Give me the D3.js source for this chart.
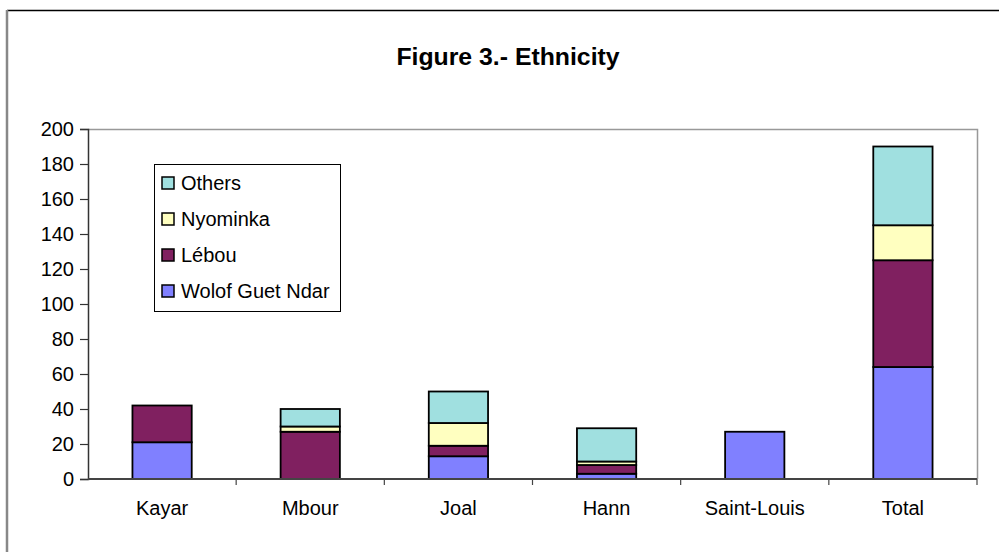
<!DOCTYPE html>
<html>
<head>
<meta charset="utf-8">
<script src="https://cdn.jsdelivr.net/npm/d3@7"></script>
<style>
  html, body { margin: 0; padding: 0; background: #fff; }
  svg { display: block; font-family: "Liberation Sans", Arial, sans-serif; }
</style>
</head>
<body>
<svg id="chart" width="999" height="552"></svg>
<script>
// Sites surveyed and the headcount of each ethnic group per site
const categories = ["Kayar", "Mbour", "Joal", "Hann", "Saint-Louis", "Total"];
const wolofGuetNdar = [21, 0, 13, 3, 27, 64];
const lebou        = [21, 27, 6, 5, 0, 61];
const nyominka     = [0, 3, 13, 2, 0, 20];
const others       = [0, 10, 18, 19, 0, 45];
const seriesNames  = ["Wolof Guet Ndar", "Lébou", "Nyominka", "Others"];
const yTicks       = [0, 20, 40, 60, 80, 100, 120, 140, 160, 180, 200];

const seriesValues = [wolofGuetNdar, lebou, nyominka, others];
const colors = ["#8080FF", "#802060", "#FFFFC0", "#A0E0E0"];
const fontSize = 20;

const svg = d3.select("#chart");
const plot = { left: 88, right: 977, top: 129, bottom: 479 };

// Outer frame (top and left edges visible)
svg.append("line").attr("x1", 7).attr("x2", 999).attr("y1", 10.5).attr("y2", 10.5)
  .attr("stroke", "#000").attr("stroke-width", 1.5);
svg.append("line").attr("x1", 7).attr("x2", 7).attr("y1", 10).attr("y2", 552)
  .attr("stroke", "#888").attr("stroke-width", 2.5);

// Title
svg.append("text").attr("x", 508).attr("y", 65).attr("text-anchor", "middle")
  .attr("font-size", 24.8).attr("font-weight", "bold").attr("fill", "#000")
  .text("Figure 3.- Ethnicity");

const x = d3.scaleBand().domain(categories).range([plot.left, plot.right]).padding(0);
const y = d3.scaleLinear().domain([0, 200]).range([plot.bottom, plot.top]);

// Plot area border (top and right)
svg.append("path")
  .attr("d", `M${plot.left},${plot.top + 0.5}H${plot.right + 0.5}V${plot.bottom}`)
  .attr("fill", "none").attr("stroke", "#999").attr("stroke-width", 1.5);

// Stacked data
const table = categories.map((c, i) => {
  const row = { category: c };
  seriesNames.forEach((s, k) => { row[s] = seriesValues[k][i]; });
  return row;
});
const stacked = d3.stack().keys(seriesNames)(table);

const barW = x.bandwidth() * 0.4;
svg.append("g").selectAll("g").data(stacked).join("g")
  .attr("fill", (d, k) => colors[k])
  .selectAll("rect").data(d => d.filter(p => p[1] - p[0] > 0)).join("rect")
  .attr("x", d => x(d.data.category) + (x.bandwidth() - barW) / 2)
  .attr("width", barW)
  .attr("y", d => y(d[1]))
  .attr("height", d => y(d[0]) - y(d[1]))
  .attr("stroke", "#000").attr("stroke-width", 1.8);

// Y axis
const yAxis = svg.append("g").attr("transform", `translate(${plot.left},0)`)
  .call(d3.axisLeft(y).tickValues(yTicks).tickSize(8).tickPadding(6).tickFormat(d3.format("d")));
yAxis.select(".domain").attr("stroke", "#333").attr("stroke-width", 1.5);
yAxis.selectAll(".tick line").attr("stroke", "#333").attr("stroke-width", 1.2);
yAxis.selectAll(".tick text").attr("font-size", fontSize).attr("fill", "#000")
  .attr("font-family", "Liberation Sans, Arial, sans-serif");

// X axis with ticks between categories
const xAxisG = svg.append("g");
xAxisG.append("line").attr("x1", plot.left).attr("x2", plot.right)
  .attr("y1", plot.bottom).attr("y2", plot.bottom)
  .attr("stroke", "#444").attr("stroke-width", 2);
const boundaries = categories.map(c => x(c)).concat([plot.right]);
xAxisG.selectAll("line.sep").data(boundaries.slice(1)).join("line").attr("class", "sep")
  .attr("x1", d => d).attr("x2", d => d)
  .attr("y1", plot.bottom).attr("y2", plot.bottom + 6)
  .attr("stroke", "#444").attr("stroke-width", 1.2);
xAxisG.selectAll("text").data(categories).join("text")
  .attr("x", d => x(d) + x.bandwidth() / 2).attr("y", 515)
  .attr("text-anchor", "middle").attr("font-size", fontSize).attr("fill", "#000")
  .text(d => d);

// Legend
const legend = svg.append("g");
legend.append("rect").attr("x", 154.5).attr("y", 164.5).attr("width", 186).attr("height", 147)
  .attr("fill", "#fff").attr("stroke", "#000").attr("stroke-width", 1);
const legendOrder = [3, 2, 1, 0];
legendOrder.forEach((k, i) => {
  const cy = 183 + i * 36;
  legend.append("rect").attr("x", 162).attr("y", cy - 6).attr("width", 12).attr("height", 12)
    .attr("fill", colors[k]).attr("stroke", "#000").attr("stroke-width", 1.5);
  legend.append("text").attr("x", 181).attr("y", cy + 7)
    .attr("font-size", fontSize).attr("fill", "#000").text(seriesNames[k]);
});
</script>
</body>
</html>
